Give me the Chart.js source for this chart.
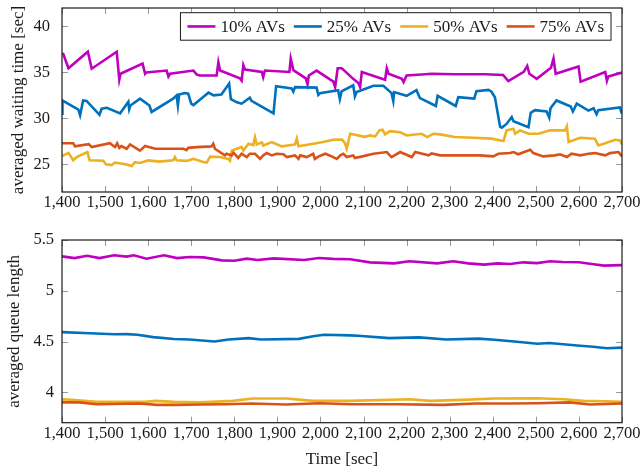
<!DOCTYPE html>
<html>
<head>
<meta charset="utf-8">
<script src="https://cdn.jsdelivr.net/npm/chart.js@4.4.1/dist/chart.umd.min.js"></script>
<style>
  html, body { margin: 0; padding: 0; background: #fff; width: 641px; height: 473px; overflow: hidden; }
  #wait { position: absolute; left: 0; top: 0; }
  #queue { position: absolute; left: 0; top: 220px; }
</style>
</head>
<body>
<canvas id="wait" width="641" height="215"></canvas>
<canvas id="queue" width="641" height="253"></canvas>
<script>
// ---- series names and colours ----
const seriesLabels = ['10% AVs', '25% AVs', '50% AVs', '75% AVs'];
const seriesColors = ['#BF00BF', '#0072BD', '#EDB120', '#D95319'];

// ---- axis ticks ----
const timeTicks = [1400, 1500, 1600, 1700, 1800, 1900, 2000, 2100, 2200, 2300, 2400, 2500, 2600, 2700];
const timeTickLabels = ['1,400', '1,500', '1,600', '1,700', '1,800', '1,900', '2,000', '2,100', '2,200', '2,300', '2,400', '2,500', '2,600', '2,700'];
const waitTicks = [25, 30, 35, 40];
const waitTickLabels = ['25', '30', '35', '40'];
const queueTicks = [4, 4.5, 5, 5.5];
const queueTickLabels = ['4', '4.5', '5', '5.5'];

// ---- averaged waiting time [sec], pairs of [time, value] ----
const wait10 = [
  [1400, 37.05], [1403, 37.0], [1415, 35.45], [1460, 37.25], [1469, 35.4], [1527, 37.25], [1533, 34.2],
  [1536, 34.85], [1587, 35.95], [1593, 34.85], [1596, 35.0], [1643, 35.2], [1647, 34.55], [1651, 34.85],
  [1705, 35.2], [1713, 34.75], [1720, 34.67], [1759, 34.67], [1763, 36.1], [1767, 35.2], [1813, 34.35],
  [1817, 34.1], [1821, 35.8], [1825, 35.3], [1864, 35.05], [1867, 34.5], [1871, 35.2], [1928, 35.05],
  [1931, 36.5], [1937, 35.25], [1966, 34.35], [1970, 33.7], [1973, 34.67], [1991, 35.2], [2030, 34.0],
  [2034, 33.4], [2040, 35.45], [2049, 35.45], [2053, 35.3], [2076, 34.3], [2088, 33.85], [2092, 33.4],
  [2096, 35.05], [2150, 34.2], [2154, 35.45], [2158, 34.85], [2189, 34.3], [2193, 33.95], [2200, 34.67],
  [2243, 34.8], [2258, 34.86], [2310, 34.8], [2382, 34.8], [2424, 34.72], [2436, 34.05], [2472, 35.07],
  [2480, 35.7], [2485, 34.85], [2502, 34.3], [2535, 35.5], [2541, 36.5], [2546, 34.85], [2599, 35.65],
  [2604, 34.0], [2661, 35.05], [2665, 34.1], [2668, 34.55], [2700, 34.98]
];
const wait25 = [
  [1400, 30.5], [1401, 31.95], [1438, 30.95], [1442, 30.35], [1449, 31.95], [1457, 31.9], [1484, 30.55],
  [1487, 30.4], [1492, 31.05], [1504, 31.15], [1535, 30.55], [1554, 31.8], [1556, 31.0], [1559, 31.4],
  [1581, 32.15], [1603, 31.4], [1608, 30.7], [1658, 32.15], [1666, 32.5], [1669, 31.4], [1672, 32.6],
  [1685, 32.75], [1693, 32.7], [1700, 31.6], [1705, 31.45], [1732, 32.5], [1740, 32.8], [1752, 32.5],
  [1770, 32.6], [1788, 33.8], [1792, 32.1], [1806, 31.75], [1817, 31.6], [1836, 32.25], [1840, 31.9],
  [1891, 30.55], [1897, 33.5], [1933, 33.25], [1937, 32.9], [1941, 33.4], [1991, 33.35], [1995, 32.55],
  [1999, 32.75], [2041, 33.07], [2045, 32.1], [2049, 32.95], [2076, 33.6], [2080, 32.4], [2084, 32.86],
  [2123, 33.55], [2146, 33.55], [2165, 32.75], [2169, 31.9], [2171, 32.86], [2200, 32.45], [2223, 33.07],
  [2231, 32.2], [2268, 31.35], [2272, 32.45], [2314, 31.35], [2320, 32.3], [2357, 32.15], [2362, 32.95],
  [2390, 33.1], [2397, 32.9], [2405, 32.3], [2417, 29.1], [2421, 29.0], [2432, 29.4], [2444, 30.15],
  [2448, 29.7], [2483, 29.05], [2488, 30.6], [2498, 30.9], [2525, 30.75], [2531, 30.1], [2534, 31.1],
  [2548, 31.95], [2581, 31.3], [2586, 30.75], [2595, 31.6], [2622, 30.85], [2634, 31.1], [2641, 30.45],
  [2645, 30.9], [2695, 31.2], [2700, 30.5]
];
const wait50 = [
  [1400, 25.9], [1415, 26.25], [1426, 25.45], [1434, 25.8], [1459, 26.35], [1464, 25.45], [1496, 25.4],
  [1502, 25.0], [1515, 24.92], [1523, 25.2], [1550, 25.0], [1562, 24.82], [1569, 25.25], [1581, 25.15],
  [1600, 25.43], [1627, 25.3], [1658, 25.45], [1662, 25.8], [1666, 25.45], [1689, 25.38], [1705, 25.6],
  [1728, 25.25], [1736, 25.2], [1744, 25.85], [1767, 25.8], [1786, 25.6], [1790, 25.4], [1794, 26.5],
  [1817, 26.9], [1821, 26.5], [1833, 27.25], [1844, 27.1], [1848, 27.95], [1852, 27.17], [1864, 27.4],
  [1867, 27.06], [1887, 27.43], [1910, 26.96], [1941, 27.17], [1945, 27.8], [1949, 26.96], [1983, 27.25],
  [2003, 27.4], [2030, 27.68], [2050, 27.7], [2057, 27.3], [2061, 26.7], [2069, 28.33], [2103, 28.0],
  [2115, 28.15], [2127, 28.04], [2137, 28.7], [2144, 28.77], [2150, 28.26], [2161, 28.62], [2185, 28.5],
  [2200, 28.15], [2235, 28.33], [2248, 27.97], [2262, 28.33], [2278, 28.26], [2312, 27.97], [2355, 27.9],
  [2397, 27.8], [2425, 27.54], [2432, 28.7], [2448, 28.88], [2452, 28.33], [2463, 28.7], [2483, 28.33],
  [2506, 28.33], [2533, 28.7], [2568, 28.7], [2572, 29.13], [2576, 27.43], [2603, 27.9], [2637, 27.8],
  [2645, 27.06], [2661, 27.3], [2684, 27.68], [2695, 27.6], [2700, 27.17]
];
const wait75 = [
  [1400, 27.3], [1426, 27.3], [1430, 26.96], [1462, 27.2], [1469, 26.88], [1511, 27.3], [1523, 26.88],
  [1528, 27.3], [1533, 26.8], [1538, 27.0], [1550, 26.7], [1558, 27.17], [1581, 26.5], [1593, 27.0],
  [1616, 26.7], [1682, 26.7], [1689, 26.55], [1693, 26.8], [1713, 26.88], [1747, 26.96], [1751, 27.25],
  [1755, 26.7], [1778, 25.98], [1782, 26.16], [1794, 25.98], [1798, 26.27], [1809, 25.7], [1817, 26.16],
  [1829, 25.8], [1836, 26.16], [1848, 26.16], [1860, 25.6], [1867, 25.98], [1875, 26.23], [1887, 25.98],
  [1898, 26.16], [1914, 26.1], [1922, 25.8], [1941, 25.98], [1949, 25.6], [1953, 25.98], [1968, 25.8],
  [1983, 26.16], [1987, 25.6], [1995, 25.85], [2011, 26.16], [2026, 25.87], [2038, 25.6], [2046, 25.98],
  [2053, 26.16], [2061, 25.8], [2076, 25.98], [2080, 25.7], [2100, 25.9], [2123, 26.16], [2154, 26.34],
  [2165, 25.8], [2185, 26.34], [2212, 25.8], [2220, 26.34], [2251, 25.98], [2258, 26.2], [2278, 25.98],
  [2340, 25.98], [2370, 25.98], [2401, 25.87], [2413, 26.16], [2440, 26.23], [2448, 26.34], [2459, 26.1],
  [2487, 26.6], [2494, 26.23], [2517, 25.87], [2544, 25.98], [2556, 26.1], [2572, 25.8], [2583, 26.16],
  [2603, 25.98], [2622, 26.16], [2637, 26.23], [2661, 25.98], [2672, 26.23], [2692, 26.34], [2700, 25.87]
];

// ---- averaged queue length, pairs of [time, value] ----
const queue10 = [
  [1400, 5.339], [1429, 5.322], [1458, 5.345], [1487, 5.322], [1521, 5.349], [1550, 5.336], [1567, 5.349],
  [1596, 5.316], [1637, 5.349], [1667, 5.322], [1696, 5.332], [1729, 5.329], [1771, 5.299], [1800, 5.296],
  [1829, 5.316], [1854, 5.303], [1892, 5.319], [1962, 5.303], [1996, 5.322], [2029, 5.314], [2069, 5.31],
  [2115, 5.28], [2171, 5.27], [2206, 5.29], [2271, 5.27], [2308, 5.29], [2343, 5.27], [2380, 5.257],
  [2411, 5.27], [2440, 5.264], [2471, 5.28], [2503, 5.272], [2533, 5.29], [2562, 5.283], [2600, 5.281],
  [2630, 5.263], [2658, 5.248], [2700, 5.252]
];
const queue25 = [
  [1400, 4.592], [1450, 4.584], [1521, 4.572], [1550, 4.573], [1575, 4.566], [1612, 4.543], [1660, 4.525],
  [1696, 4.52], [1754, 4.5], [1787, 4.52], [1833, 4.533], [1862, 4.52], [1950, 4.526], [1983, 4.552],
  [2008, 4.567], [2069, 4.56], [2087, 4.556], [2160, 4.533], [2229, 4.541], [2292, 4.52], [2367, 4.528],
  [2404, 4.518], [2450, 4.5], [2504, 4.478], [2531, 4.485], [2596, 4.46], [2633, 4.448], [2665, 4.433],
  [2700, 4.44]
];
const queue50 = [
  [1400, 3.93], [1422, 3.926], [1480, 3.905], [1550, 3.905], [1593, 3.905], [1617, 3.915], [1660, 3.905],
  [1720, 3.9], [1797, 3.915], [1843, 3.938], [1920, 3.938], [1983, 3.915], [2069, 3.915], [2208, 3.931],
  [2254, 3.915], [2330, 3.925], [2401, 3.938], [2502, 3.941], [2564, 3.931], [2610, 3.915], [2660, 3.912],
  [2700, 3.905]
];
const queue75 = [
  [1400, 3.9], [1440, 3.9], [1480, 3.882], [1581, 3.889], [1620, 3.876], [1666, 3.876], [1720, 3.879],
  [1780, 3.882], [1840, 3.889], [1920, 3.879], [1998, 3.892], [2069, 3.882], [2180, 3.882], [2285, 3.876],
  [2360, 3.889], [2440, 3.889], [2502, 3.892], [2579, 3.9], [2626, 3.879], [2700, 3.889]
];

const SERIF = "'Liberation Serif', 'Times New Roman', serif";
const TEXT = '#1a1a1a';

// Frame, inward tick marks on all four sides, and an optional boxed legend.
const pgfFrame = {
  id: 'pgfFrame',
  beforeDatasetsDraw(chart) {
    const { ctx, chartArea: a, scales: { x, y } } = chart;
    ctx.save();
    ctx.strokeStyle = '#9a9a9a';
    ctx.lineWidth = 1;
    ctx.beginPath();
    x.ticks.forEach(t => {
      const px = Math.round(x.getPixelForValue(t.value)) + 0.5;
      ctx.moveTo(px, a.bottom); ctx.lineTo(px, a.bottom - 6);
      ctx.moveTo(px, a.top); ctx.lineTo(px, a.top + 6);
    });
    y.ticks.forEach(t => {
      const py = Math.round(y.getPixelForValue(t.value)) + 0.5;
      ctx.moveTo(a.left, py); ctx.lineTo(a.left + 6, py);
      ctx.moveTo(a.right, py); ctx.lineTo(a.right - 6, py);
    });
    ctx.stroke();
    ctx.restore();
  },
  afterDatasetsDraw(chart, args, opts) {
    const { ctx, chartArea: a } = chart;
    ctx.save();
    ctx.strokeStyle = TEXT;
    ctx.lineWidth = 1.2;
    ctx.strokeRect(a.left, a.top, a.right - a.left, a.bottom - a.top);
    if (opts.legend) {
      ctx.font = '17px ' + SERIF;
      const pad = 7, lineLen = 28, gap = 5, spacing = 9, boxH = 27.5;
      const items = chart.data.datasets.map(d => ({
        label: d.label, color: d.borderColor, w: ctx.measureText(d.label).width
      }));
      const boxW = pad * 2 + items.reduce((s, it) => s + lineLen + gap + it.w, 0) + spacing * (items.length - 1);
      const right = a.right - 11, top = a.top + 4.7, left = right - boxW;
      ctx.fillStyle = '#fff';
      ctx.fillRect(left, top, boxW, boxH);
      ctx.lineWidth = 1;
      ctx.strokeStyle = TEXT;
      ctx.strokeRect(left, top, boxW, boxH);
      const cy = top + boxH / 2;
      let cx = left + pad;
      items.forEach(it => {
        ctx.strokeStyle = it.color;
        ctx.lineWidth = 2.6;
        ctx.beginPath();
        ctx.moveTo(cx, cy); ctx.lineTo(cx + lineLen, cy);
        ctx.stroke();
        cx += lineLen + gap;
        ctx.fillStyle = TEXT;
        ctx.textBaseline = 'middle';
        ctx.textAlign = 'left';
        ctx.fillText(it.label, cx, cy + 1);
        cx += it.w + spacing;
      });
    }
    ctx.restore();
  }
};

function makeDatasets(list) {
  return list.map((pts, i) => ({
    label: seriesLabels[i],
    data: pts.map(([x, y]) => ({ x, y })),
    borderColor: seriesColors[i],
    backgroundColor: seriesColors[i],
    borderWidth: 2.6,
    pointRadius: 0,
    tension: 0,
    fill: false,
    order: list.length - i
  }));
}

function makeOptions(cfg) {
  return {
    responsive: false,
    animation: false,
    devicePixelRatio: 1,
    layout: { padding: { top: cfg.padTop, right: 19, bottom: 0, left: 0 } },
    plugins: {
      legend: { display: false },
      tooltip: { enabled: false },
      pgfFrame: { legend: cfg.legend }
    },
    scales: {
      x: {
        type: 'linear',
        min: 1400, max: 2700,
        grid: { display: false, drawTicks: false },
        border: { display: false },
        afterBuildTicks: s => { s.ticks = timeTicks.map(v => ({ value: v })); },
        afterFit: s => { s.height = cfg.xHeight; s.paddingLeft = 0; s.paddingRight = 0; },
        ticks: {
          autoSkip: false, maxRotation: 0, padding: 1,
          color: TEXT, font: { family: SERIF, size: 16.5 },
          callback: (v, i) => timeTickLabels[i]
        },
        title: cfg.xTitle ? {
          display: true, text: cfg.xTitle, color: TEXT,
          font: { family: SERIF, size: 17 }, padding: { top: 0, bottom: 2.8 }
        } : { display: false }
      },
      y: {
        min: cfg.yMin, max: cfg.yMax,
        grid: { display: false, drawTicks: false },
        border: { display: false },
        afterBuildTicks: s => { s.ticks = cfg.yTicks.map(v => ({ value: v })); },
        afterFit: s => { s.width = 62; s.paddingTop = 0; s.paddingBottom = 0; },
        ticks: {
          padding: cfg.yLabelPad,
          color: TEXT, font: { family: SERIF, size: 16.5 },
          callback: (v, i) => cfg.yTickLabels[i]
        },
        title: {
          display: true, text: cfg.yTitle, color: TEXT,
          font: { family: SERIF, size: 17 }, padding: { top: cfg.yTitlePad, bottom: 0 }
        }
      }
    }
  };
}

new Chart(document.getElementById('wait'), {
  type: 'line',
  data: { datasets: makeDatasets([wait10, wait25, wait50, wait75]) },
  options: makeOptions({
    padTop: 8, xHeight: 23, legend: true,
    yMin: 22, yMax: 42, yTicks: waitTicks, yTickLabels: waitTickLabels,
    yTitle: 'averaged waiting time [sec]', yTitlePad: 8.8, yLabelPad: 12
  }),
  plugins: [pgfFrame]
});

new Chart(document.getElementById('queue'), {
  type: 'line',
  data: { datasets: makeDatasets([queue10, queue25, queue50, queue75]) },
  options: makeOptions({
    padTop: 20, xHeight: 50.3, legend: false, xTitle: 'Time [sec]',
    yMin: 3.7, yMax: 5.5, yTicks: queueTicks, yTickLabels: queueTickLabels,
    yTitle: 'averaged queue length', yTitlePad: 4.8, yLabelPad: 8
  }),
  plugins: [pgfFrame]
});
</script>
</body>
</html>
